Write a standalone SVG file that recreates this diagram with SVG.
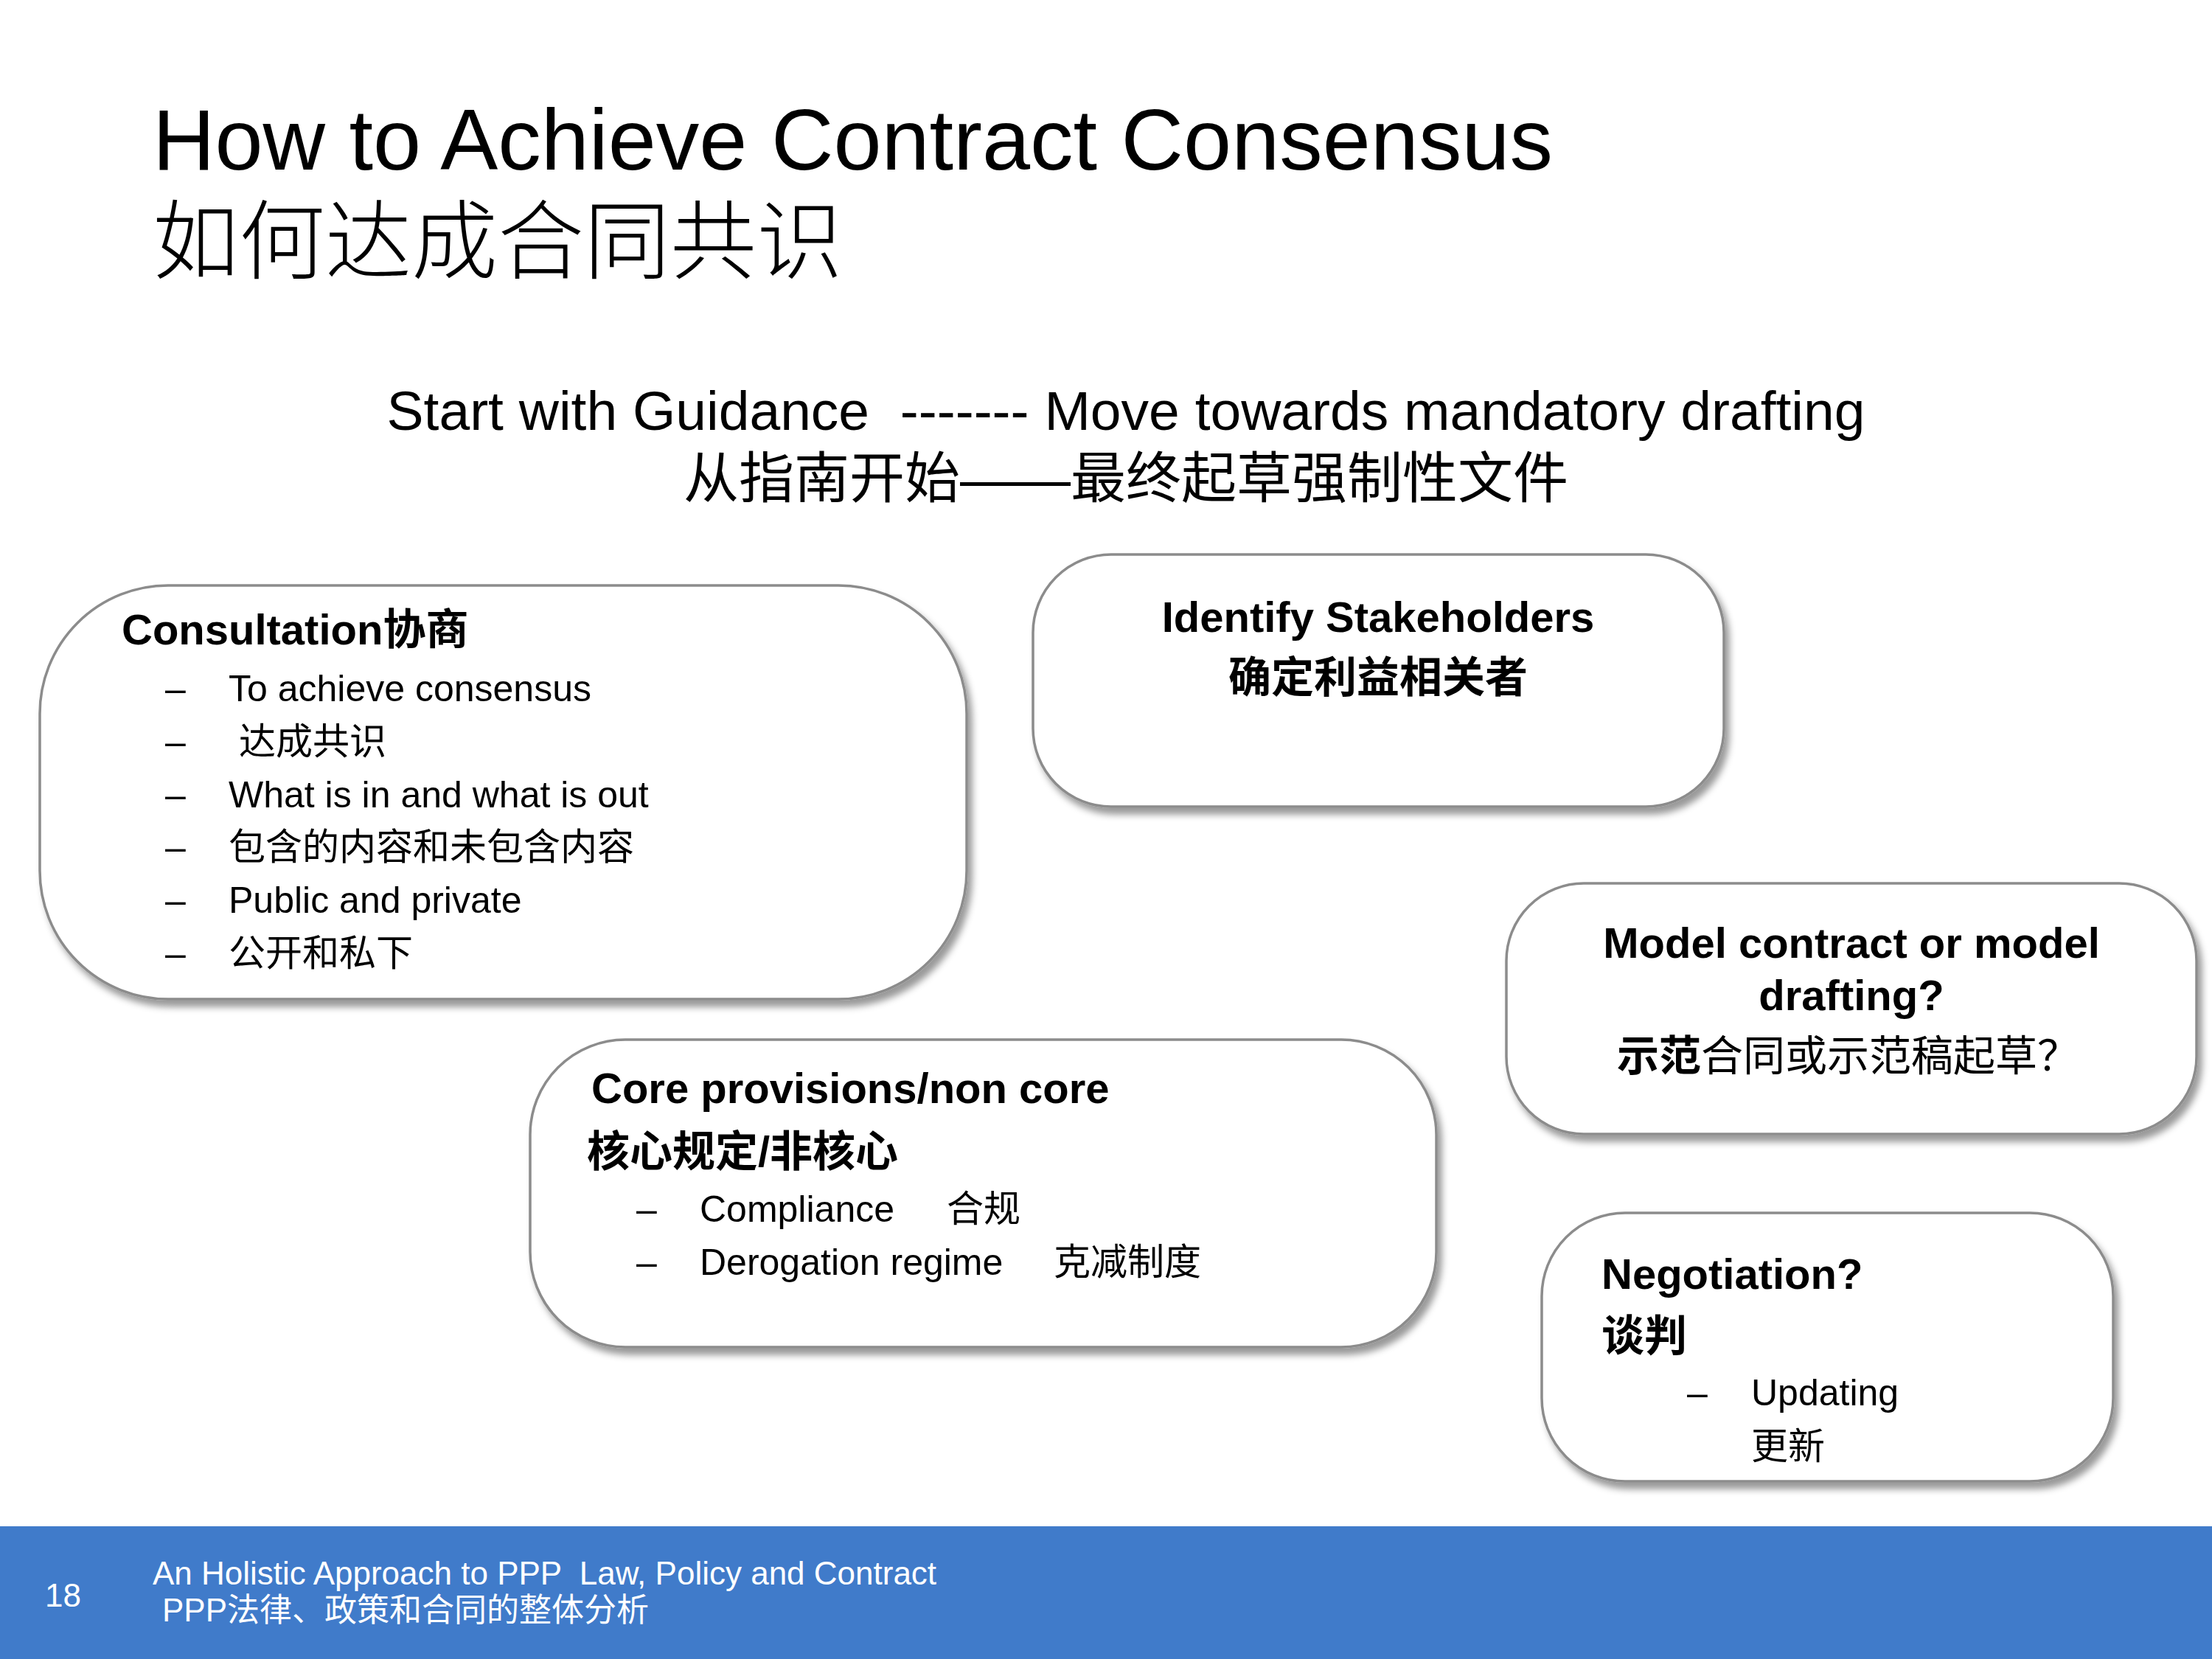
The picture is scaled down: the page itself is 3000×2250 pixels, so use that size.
<svg xmlns="http://www.w3.org/2000/svg" width="3000" height="2250" viewBox="0 0 3000 2250">
<defs>
<filter id="sh" x="-10%" y="-10%" width="125%" height="135%">
<feDropShadow dx="6" dy="9" stdDeviation="5" flood-color="#000" flood-opacity="0.4"/>
</filter>
<style>
text{font-family:"Liberation Sans",Arial,"Noto Sans CJK SC",sans-serif;fill:#000;white-space:pre}
.box{fill:#fff;stroke:#8c8c8c;stroke-width:3.5;filter:url(#sh)}
.h{font-weight:bold;font-size:58px}
.b{font-size:50px}
.c{text-anchor:middle}
.ft{fill:#fff;font-size:44px}
</style>
</defs>
<rect width="3000" height="2250" fill="#fff"/>

<g id="title">
<text x="207" y="230" font-size="117">How to Achieve Contract Consensus</text>
<text x="207" y="369" font-size="117" font-weight="300">如何达成合同共识</text>
</g>

<g id="subtitle">
<text class="c" x="1527" y="583" font-size="75">Start with Guidance  ------- Move towards mandatory drafting</text>
<text class="c" x="1527" y="675" font-size="75">从指南开始——最终起草强制性文件</text>
</g>

<g id="connectors"/>

<g id="consultation">
<rect class="box" x="54" y="794" width="1257" height="561" rx="174"/>
<text class="h" x="165" y="874">Consultation协商</text>
<g class="b">
<text x="224" y="951">–</text><text x="310" y="951">To achieve consensus</text>
<text x="224" y="1023">–</text><text x="324" y="1023">达成共识</text>
<text x="224" y="1095">–</text><text x="310" y="1095">What is in and what is out</text>
<text x="224" y="1166">–</text><text x="310" y="1166">包含的内容和未包含内容</text>
<text x="224" y="1238">–</text><text x="310" y="1238">Public and private</text>
<text x="224" y="1310">–</text><text x="310" y="1310">公开和私下</text>
</g>
</g>

<g id="stakeholders">
<rect class="box" x="1401" y="752" width="937" height="342" rx="106"/>
<text class="h c" x="1869" y="857">Identify Stakeholders</text>
<text class="h c" x="1869" y="939">确定利益相关者</text>
</g>

<g id="model">
<rect class="box" x="2043" y="1198" width="936" height="340" rx="105"/>
<text class="h c" x="2511" y="1299">Model contract or model</text>
<text class="h c" x="2511" y="1370">drafting?</text>
<text x="2193" y="1452" font-size="57"><tspan font-weight="bold">示范</tspan>合同或示范稿起草？</text>
</g>

<g id="core">
<rect class="box" x="719" y="1410" width="1229" height="417" rx="129"/>
<text class="h" x="802" y="1496">Core provisions/non core</text>
<text class="h" x="796" y="1582">核心规定/非核心</text>
<g class="b">
<text x="863" y="1657">–</text><text x="949" y="1657">Compliance</text><text x="1284" y="1657">合规</text>
<text x="863" y="1729">–</text><text x="949" y="1729">Derogation regime</text><text x="1429" y="1729">克减制度</text>
</g>
</g>

<g id="negotiation">
<rect class="box" x="2091" y="1645" width="775" height="364" rx="113"/>
<text class="h" x="2172" y="1748">Negotiation?</text>
<text class="h" x="2172" y="1832">谈判</text>
<g class="b">
<text x="2288" y="1906">–</text><text x="2375" y="1906">Updating</text>
<text x="2375" y="1979">更新</text>
</g>
</g>

<g id="footer">
<rect x="0" y="2070" width="3000" height="180" fill="#407BCA"/>
<text class="ft" x="61" y="2179" font-size="50">18</text>
<text class="ft" x="207" y="2149">An Holistic Approach to PPP  Law, Policy and Contract</text>
<text class="ft" x="220" y="2199">PPP法律、政策和合同的整体分析</text>
</g>
</svg>
